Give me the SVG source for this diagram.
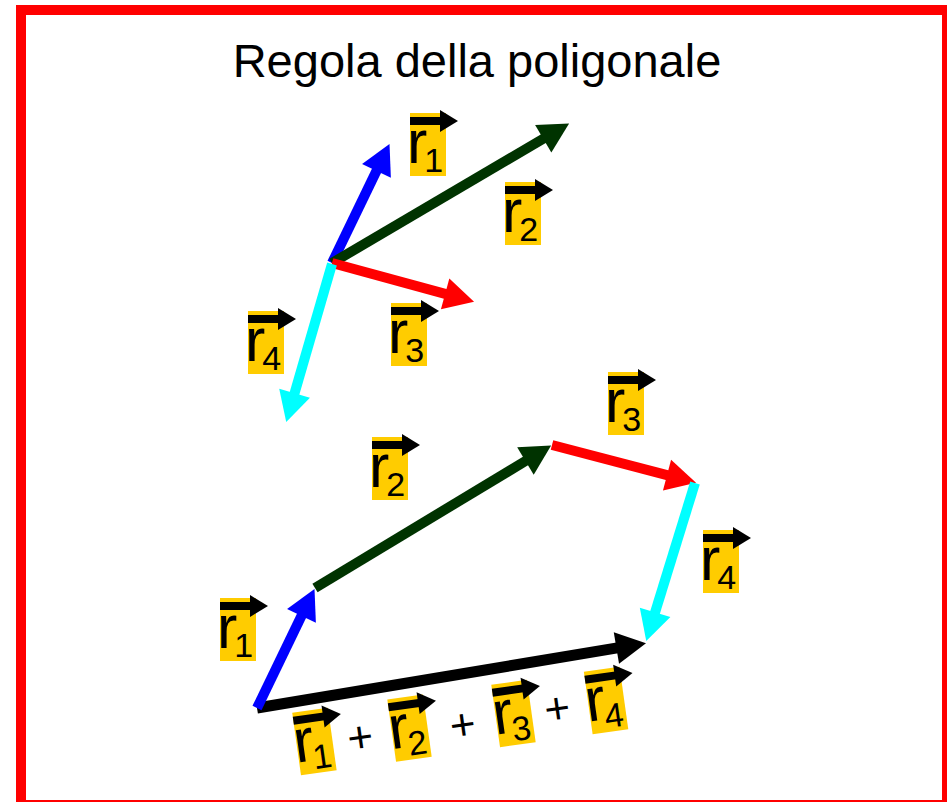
<svg xmlns="http://www.w3.org/2000/svg" width="947" height="802" viewBox="0 0 947 802">
<style>
.lbl rect{fill:#FFCC00}
.lbl text,.plus{font-family:"Liberation Sans",Arial,sans-serif;fill:#000}
.r{font-size:61px}
.s{font-size:34px}
.bar{stroke:#000;stroke-width:8}
.vec{fill:none;stroke-linecap:butt}
.title{font-family:"Liberation Sans",Arial,sans-serif;font-size:47px;fill:#000}
.plus{font-size:44px}
</style>
<defs>
<marker id="hB" markerUnits="userSpaceOnUse" markerWidth="30" markerHeight="32" refX="1" refY="16" orient="auto" overflow="visible"><path d="M0,0 L30,16 L0,32 z" fill="#0000FF"/></marker>
<marker id="hG" markerUnits="userSpaceOnUse" markerWidth="30" markerHeight="32" refX="1" refY="16" orient="auto" overflow="visible"><path d="M0,0 L30,16 L0,32 z" fill="#003300"/></marker>
<marker id="hR" markerUnits="userSpaceOnUse" markerWidth="30" markerHeight="32" refX="1" refY="16" orient="auto" overflow="visible"><path d="M0,0 L30,16 L0,32 z" fill="#FF0000"/></marker>
<marker id="hC" markerUnits="userSpaceOnUse" markerWidth="30" markerHeight="32" refX="1" refY="16" orient="auto" overflow="visible"><path d="M0,0 L30,16 L0,32 z" fill="#00FFFF"/></marker>
<marker id="hK" markerUnits="userSpaceOnUse" markerWidth="30" markerHeight="32" refX="1" refY="16" orient="auto" overflow="visible"><path d="M0,0 L30,16 L0,32 z" fill="#000000"/></marker>
</defs>
<rect x="21" y="10" width="926" height="795" fill="#FFFFFF" stroke="#FF0000" stroke-width="10"/>
<text class="title" x="477" y="77" text-anchor="middle">Regola della poligonale</text>

<g id="connectors">
  <line class="vec" x1="332" y1="263" x2="376.9" y2="170" stroke="#0000FF" stroke-width="10" marker-end="url(#hB)"/>
  <line class="vec" x1="332" y1="263" x2="544.1" y2="138.2" stroke="#003300" stroke-width="10" marker-end="url(#hG)"/>
  <line class="vec" x1="332" y1="263" x2="446.1" y2="294.1" stroke="#FF0000" stroke-width="10" marker-end="url(#hR)"/>
  <line class="vec" x1="332" y1="264" x2="294.3" y2="394.2" stroke="#00FFFF" stroke-width="10" marker-end="url(#hC)"/>

  <line class="vec" x1="257" y1="708" x2="617.4" y2="647.9" stroke="#000000" stroke-width="11" marker-end="url(#hK)"/>
  <line class="vec" x1="257" y1="708" x2="301.9" y2="615" stroke="#0000FF" stroke-width="10" marker-end="url(#hB)"/>
  <line class="vec" x1="315" y1="588" x2="526.3" y2="460.5" stroke="#003300" stroke-width="10" marker-end="url(#hG)"/>
  <line class="vec" x1="552" y1="445" x2="668" y2="475.4" stroke="#FF0000" stroke-width="10" marker-end="url(#hR)"/>
  <line class="vec" x1="695" y1="483" x2="654.8" y2="613.3" stroke="#00FFFF" stroke-width="10" marker-end="url(#hC)"/>
</g>

<g id="top-r1" class="lbl" transform="translate(410 113)">
  <rect width="36" height="63"/><text x="-3" y="50"><tspan class="r">r</tspan><tspan class="s" dx="-3" dy="9">1</tspan></text>
  <line class="bar" x1="0" y1="8" x2="31" y2="8"/><polygon points="30,-3 48,8 30,19"/>
</g>
<g id="top-r2" class="lbl" transform="translate(505 182)">
  <rect width="36" height="63"/><text x="-3" y="50"><tspan class="r">r</tspan><tspan class="s" dx="-3" dy="9">2</tspan></text>
  <line class="bar" x1="0" y1="8" x2="31" y2="8"/><polygon points="30,-3 48,8 30,19"/>
</g>
<g id="top-r3" class="lbl" transform="translate(391 303)">
  <rect width="36" height="63"/><text x="-3" y="50"><tspan class="r">r</tspan><tspan class="s" dx="-3" dy="9">3</tspan></text>
  <line class="bar" x1="0" y1="8" x2="31" y2="8"/><polygon points="30,-3 48,8 30,19"/>
</g>
<g id="top-r4" class="lbl" transform="translate(248 311)">
  <rect width="36" height="63"/><text x="-3" y="50"><tspan class="r">r</tspan><tspan class="s" dx="-3" dy="9">4</tspan></text>
  <line class="bar" x1="0" y1="8" x2="31" y2="8"/><polygon points="30,-3 48,8 30,19"/>
</g>

<g id="bot-r1" class="lbl" transform="translate(220 598)">
  <rect width="36" height="63"/><text x="-3" y="50"><tspan class="r">r</tspan><tspan class="s" dx="-3" dy="9">1</tspan></text>
  <line class="bar" x1="0" y1="8" x2="31" y2="8"/><polygon points="30,-3 48,8 30,19"/>
</g>
<g id="bot-r2" class="lbl" transform="translate(372 437)">
  <rect width="36" height="63"/><text x="-3" y="50"><tspan class="r">r</tspan><tspan class="s" dx="-3" dy="9">2</tspan></text>
  <line class="bar" x1="0" y1="8" x2="31" y2="8"/><polygon points="30,-3 48,8 30,19"/>
</g>
<g id="bot-r3" class="lbl" transform="translate(608 372)">
  <rect width="36" height="63"/><text x="-3" y="50"><tspan class="r">r</tspan><tspan class="s" dx="-3" dy="9">3</tspan></text>
  <line class="bar" x1="0" y1="8" x2="31" y2="8"/><polygon points="30,-3 48,8 30,19"/>
</g>
<g id="bot-r4" class="lbl" transform="translate(703 530)">
  <rect width="36" height="63"/><text x="-3" y="50"><tspan class="r">r</tspan><tspan class="s" dx="-3" dy="9">4</tspan></text>
  <line class="bar" x1="0" y1="8" x2="31" y2="8"/><polygon points="30,-3 48,8 30,19"/>
</g>

<g id="sum" transform="rotate(-8 460 721)">
  <g class="lbl" transform="translate(295 689.5)">
    <rect width="36" height="63"/><text x="-3" y="50"><tspan class="r">r</tspan><tspan class="s" dx="-3" dy="9">1</tspan></text>
    <line class="bar" x1="0" y1="8" x2="31" y2="8"/><polygon points="30,-3 48,8 30,19"/>
  </g>
  <text class="plus" x="359" y="738" text-anchor="middle">+</text>
  <g class="lbl" transform="translate(391 689.5)">
    <rect width="36" height="63"/><text x="-3" y="50"><tspan class="r">r</tspan><tspan class="s" dx="-3" dy="9">2</tspan></text>
    <line class="bar" x1="0" y1="8" x2="31" y2="8"/><polygon points="30,-3 48,8 30,19"/>
  </g>
  <text class="plus" x="462" y="740" text-anchor="middle">+</text>
  <g class="lbl" transform="translate(496 689.5)">
    <rect width="36" height="63"/><text x="-3" y="50"><tspan class="r">r</tspan><tspan class="s" dx="-3" dy="9">3</tspan></text>
    <line class="bar" x1="0" y1="8" x2="31" y2="8"/><polygon points="30,-3 48,8 30,19"/>
  </g>
  <text class="plus" x="558" y="737" text-anchor="middle">+</text>
  <g class="lbl" transform="translate(589.5 689.5)">
    <rect width="36" height="63"/><text x="-3" y="50"><tspan class="r">r</tspan><tspan class="s" dx="-3" dy="9">4</tspan></text>
    <line class="bar" x1="0" y1="8" x2="31" y2="8"/><polygon points="30,-3 48,8 30,19"/>
  </g>
</g>
</svg>
